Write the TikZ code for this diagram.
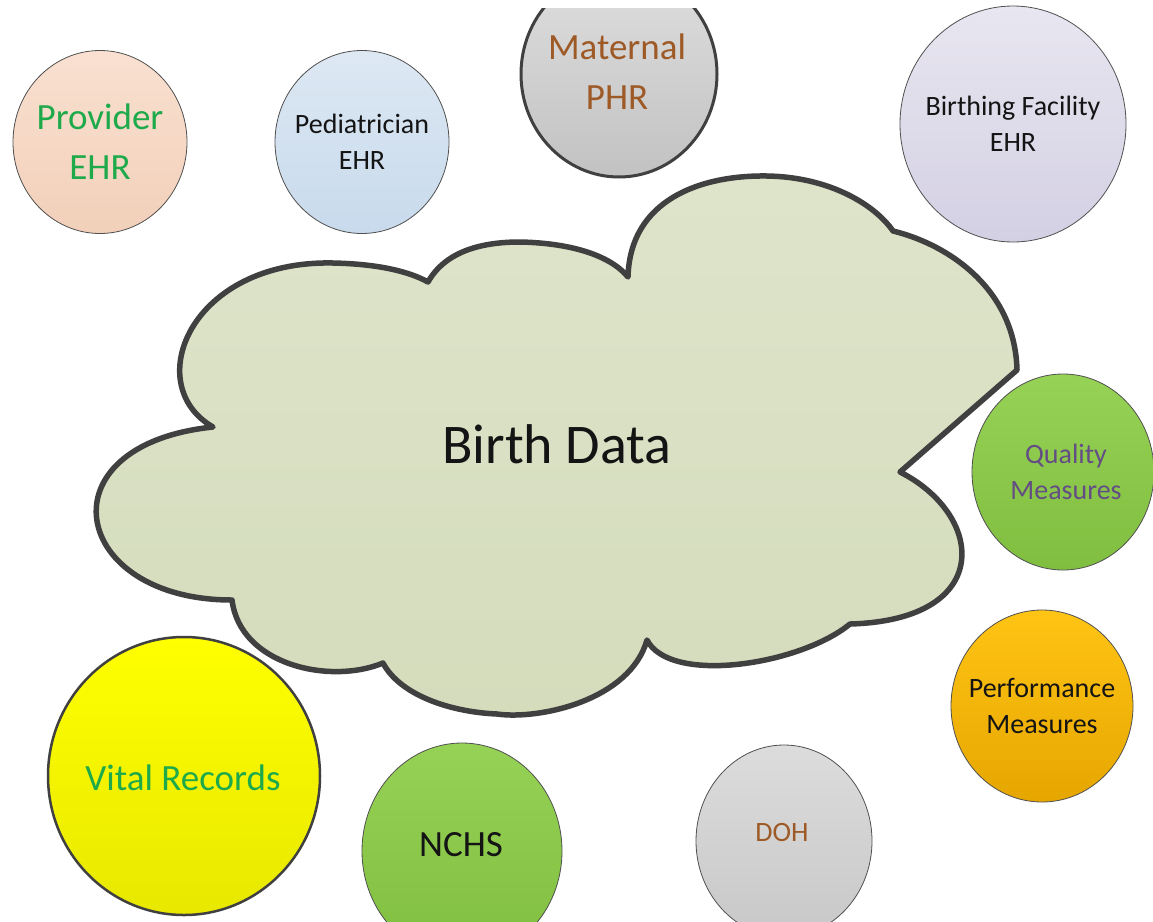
\documentclass[tikz,border=0pt]{standalone}
\usepackage{fontspec}
\setmainfont{Carlito}
\usetikzlibrary{shapes.geometric}
\definecolor{outl}{RGB}{80,80,80}
\definecolor{thick}{RGB}{64,64,64}
\definecolor{cloudtop}{RGB}{222,228,202}
\definecolor{cloudbot}{RGB}{212,220,188}
\definecolor{provtop}{RGB}{249,224,208}
\definecolor{provbot}{RGB}{242,208,186}
\definecolor{pedtop}{RGB}{221,232,243}
\definecolor{pedbot}{RGB}{200,218,236}
\definecolor{mattop}{RGB}{222,222,222}
\definecolor{matbot}{RGB}{194,194,194}
\definecolor{birtop}{RGB}{232,230,240}
\definecolor{birbot}{RGB}{212,208,228}
\definecolor{grntop}{RGB}{150,210,85}
\definecolor{grnbot}{RGB}{128,190,64}
\definecolor{orgtop}{RGB}{255,196,20}
\definecolor{orgbot}{RGB}{230,166,0}
\definecolor{dohtop}{RGB}{220,220,220}
\definecolor{dohbot}{RGB}{200,200,200}
\definecolor{yeltop}{RGB}{255,255,0}
\definecolor{yelbot}{RGB}{232,232,0}
\definecolor{txtgreen}{RGB}{30,170,75}
\definecolor{txtbrown}{RGB}{158,90,38}
\definecolor{txtpurple}{RGB}{100,76,132}
\definecolor{txtblack}{RGB}{20,20,20}
\begin{document}
\begin{tikzpicture}[x=1pt,y=-1pt,
  bubble/.style={ellipse, draw=outl, line width=0.8pt, inner sep=0pt},
  bigtxt/.style={font=\fontsize{37}{50}\selectfont, align=center},
  midtxt/.style={font=\fontsize{28}{36}\selectfont, align=center},
  cloudshape/.style={draw=thick, line width=5.5pt, line join=round, top color=cloudtop, bottom color=cloudbot}]
\clip (0,0) rectangle (1153,921);
\fill[white] (0,0) rectangle (1153,921);

% cloud
\draw[cloudshape] (428,282)
  .. controls (445,252) and (480,242) .. (520,242)
  .. controls (570,243) and (610,255) .. (628,277)
  .. controls (630,200) and (700,175) .. (767,176)
  .. controls (830,177) and (875,205) .. (893,231)
  .. controls (950,245) and (1015,290) .. (1017,370)
  -- (900,472)
  .. controls (985,515) and (995,620) .. (850,624)
  .. controls (800,665) and (670,685) .. (647,640)
  .. controls (630,700) and (540,720) .. (497,714)
  .. controls (450,712) and (400,695) .. (383,663)
  .. controls (330,685) and (240,665) .. (232,600)
  .. controls (70,600) and (40,445) .. (213,427)
  .. controls (140,385) and (190,260) .. (333,263)
  .. controls (380,264) and (410,272) .. (428,282) -- cycle;
\node[font=\fontsize{56}{60}\selectfont, text=txtblack] (bd) at (557,444) {Birth Data};

% bubbles
\node[bubble, minimum width=174pt, minimum height=183pt, top color=provtop, bottom color=provbot] (prov) at (100,142) {};
\node[bigtxt, text=txtgreen] (provt) at (prov) {Provider\\EHR};

\node[bubble, minimum width=174pt, minimum height=183pt, top color=pedtop, bottom color=pedbot] (ped) at (362,142) {};
\node[midtxt, text=txtblack] (pedt) at (ped) {Pediatrician\\EHR};

\begin{scope}
\clip (0,8) rectangle (1153,921);
\node[bubble, draw=thick, line width=3pt, minimum width=196pt, minimum height=206pt, top color=mattop, bottom color=matbot] (mat) at (619,74) {};
\end{scope}
\node[bigtxt, text=txtbrown] (matt) at (617,72) {Maternal\\PHR};

\node[bubble, minimum width=226pt, minimum height=236pt, top color=birtop, bottom color=birbot] (bir) at (1013,124) {};
\node[midtxt, text=txtblack] (birt) at (bir) {Birthing Facility\\EHR};

\node[bubble, minimum width=182pt, minimum height=196pt, top color=grntop, bottom color=grnbot] (qual) at (1063,472) {};
\node[midtxt, text=txtpurple] (qualt) at (1066,472) {Quality\\Measures};

\node[bubble, minimum width=182pt, minimum height=192pt, top color=orgtop, bottom color=orgbot] (perf) at (1042,706) {};
\node[midtxt, text=txtblack] (perft) at (perf) {Performance\\Measures};

\node[bubble, minimum width=176pt, minimum height=192pt, top color=dohtop, bottom color=dohbot] (doh) at (784,841) {};
\node[midtxt, text=txtbrown] (doht) at (782,832) {DOH};

\node[bubble, minimum width=200pt, minimum height=216pt, top color=grntop, bottom color=grnbot] (nchs) at (462,851) {};
\node[bigtxt, text=txtblack] (nchst) at (461,845) {NCHS};

\node[bubble, draw=thick, line width=2.5pt, minimum width=272pt, minimum height=278pt, top color=yeltop, bottom color=yelbot] (vital) at (184,776) {};
\node[bigtxt, text=txtgreen] (vitalt) at (183,778) {Vital Records};
\end{tikzpicture}
\end{document}
